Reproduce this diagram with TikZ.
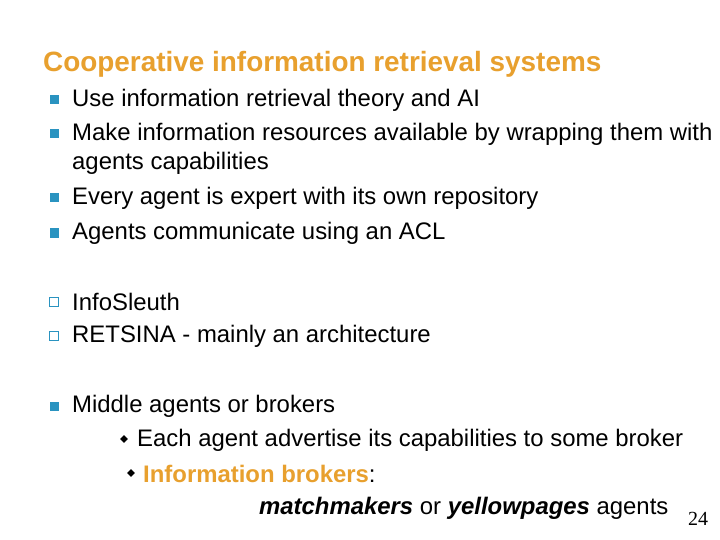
\documentclass[tikz,border=0pt]{standalone}
\usepackage{fontspec}
\setmainfont{Liberation Sans}
\newfontfamily\serifnum{Liberation Serif}
\definecolor{ttl}{HTML}{E8A02E}
\definecolor{bul}{HTML}{2A93C0}
\begin{document}
\begin{tikzpicture}[x=1pt,y=-1pt,
 txt/.style={anchor=west,inner sep=0pt,font=\fontsize{23.9}{28}\selectfont},
 fb/.style={fill=bul,minimum size=9pt,inner sep=0pt},
 ob/.style={draw=bul,line width=1.4pt,minimum size=8.5pt,inner sep=0pt},
 db/.style={fill=black,rotate=45,minimum size=5.5pt,inner sep=0pt}]
\useasboundingbox[fill=white] (0,0) rectangle (720,540);
\node[anchor=west,inner sep=0pt,text=ttl,font=\fontsize{27.9}{32}\selectfont\bfseries] (title) at (43,64) {Cooperative information retrieval systems};
\node[fb] (b1) at (54,100) {}; \node[txt] (t1) at (72,100) {Use information retrieval theory and AI};
\node[fb] (b2) at (54,134) {}; \node[txt] (t2) at (72,134) {Make information resources available by wrapping them with};
\node[txt] (t2b) at (72,163) {agents capabilities};
\node[fb] (b3) at (54,198) {}; \node[txt] (t3) at (72,198) {Every agent is expert with its own repository};
\node[fb] (b4) at (54,233) {}; \node[txt] (t4) at (72,233) {Agents communicate using an ACL};
\node[ob] (b5) at (54,302) {}; \node[txt] (t5) at (72,302) {InfoSleuth};
\node[ob] (b6) at (54,336) {}; \node[txt] (t6) at (72,336) {RETSINA - mainly an architecture};
\node[fb] (b7) at (54,406) {}; \node[txt] (t7) at (72,406) {Middle agents or brokers};
\node[db] (d1) at (124,439) {}; \node[txt] (t8) at (137,440) {Each agent advertise its capabilities to some broker};
\node[db] (d2) at (131,473) {}; \node[txt] (t9) at (143,474) {\textcolor{ttl}{\bfseries Information brokers}:};
\node[txt] (t10) at (259,508) {\bfseries\itshape matchmakers\/ \normalfont or \bfseries\itshape yellowpages\/ \normalfont agents};
\node[anchor=west,inner sep=0pt,font=\serifnum\fontsize{20}{22}\selectfont] (pg) at (688,519) {24};
\end{tikzpicture}
\end{document}
